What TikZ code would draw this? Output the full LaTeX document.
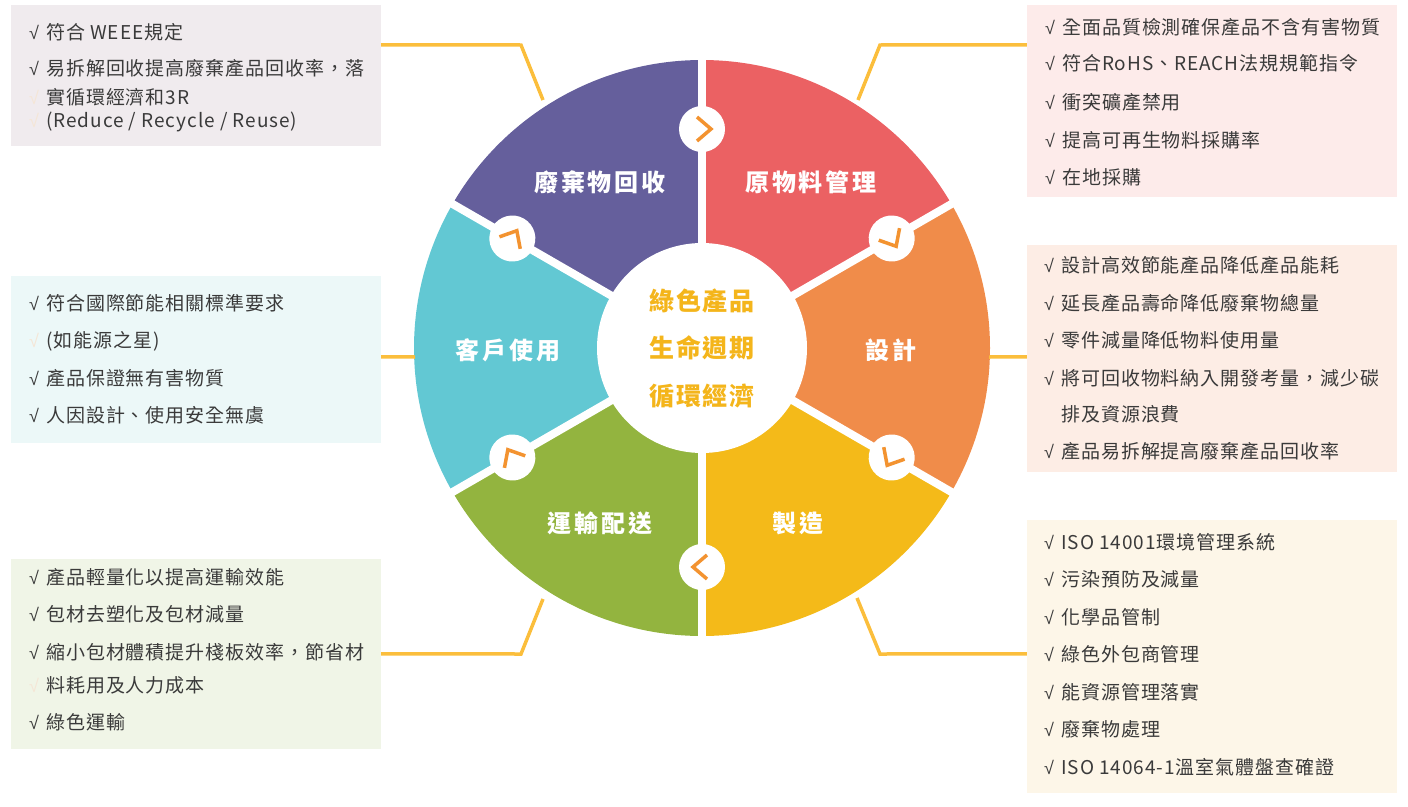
\documentclass[tikz,border=0pt]{standalone}
\usepackage{fontspec}
\usepackage{xcolor}
\usepackage{tikz}
\usetikzlibrary{calc}
\newfontfamily\tc[LetterSpace=5]{Noto Sans CJK TC}
\newfontfamily\ck{Liberation Sans}
\definecolor{cpur}{HTML}{655F9C}
\definecolor{cred}{HTML}{EB6163}
\definecolor{cora}{HTML}{F08C4A}
\definecolor{cyel}{HTML}{F4BA19}
\definecolor{cgrn}{HTML}{93B43F}
\definecolor{ccya}{HTML}{62C8D3}
\definecolor{chevc}{HTML}{F39330}
\definecolor{linkc}{HTML}{FBBE3C}
\definecolor{gold}{HTML}{F4B51B}
\definecolor{txt}{HTML}{3A3A3A}
\definecolor{faint}{HTML}{F5E6D6}
\definecolor{bga}{HTML}{F0EBEE}
\definecolor{bgb}{HTML}{FDEBEA}
\definecolor{bgc}{HTML}{ECF8F8}
\definecolor{bgd}{HTML}{FDEDE5}
\definecolor{bge}{HTML}{F0F5E7}
\definecolor{bgf}{HTML}{FDF6E8}
\newcommand\chk{\makebox[17pt][l]{{\ck\fontsize{18}{20}\selectfont √}}}
\newcommand\fchk{\makebox[17pt][l]{\textcolor{faint}{\ck\fontsize{18}{20}\selectfont √}}}

\begin{document}
\begin{tikzpicture}[x=1pt,y=1pt,
box/.style={minimum width=370pt, inner sep=0pt},
item/.style={anchor=west, inner sep=0pt, text=txt, font=\tc\fontsize{19}{22}\selectfont},
seg/.style={text=white, font=\tc\addfontfeature{LetterSpace=12}\bfseries\fontsize{24}{28}\selectfont},
link/.style={draw=linkc, line width=3.5pt},
chev/.style={draw=chevc, line width=3.5pt}]
\useasboundingbox (0,0) rectangle (1408,-806);
% boxes
\node[box, fill=bga, minimum height=141pt] (recyc) at (196,-75.5) {};
\node[box, fill=bgb, minimum height=192pt] (mat) at (1212,-101) {};
\node[box, fill=bgc, minimum height=167pt] (use) at (196,-359.5) {};
\node[box, fill=bgd, minimum height=227pt] (des) at (1212,-358.5) {};
\node[box, fill=bge, minimum height=190pt] (trans) at (196,-654) {};
\node[box, fill=bgf, minimum height=273pt] (mfg) at (1212,-656.5) {};
% wheel
\begin{scope}[shift={(702,-348)}]
\foreach \a/\c in {30/cred,-30/cora,-90/cyel,-150/cgrn,150/ccya,90/cpur}
  \fill[\c] (0,0) -- (\a:288pt) arc[start angle=\a, delta angle=60, radius=288pt] -- cycle;
\foreach \a in {90,30,-30,-90,-150,150}
  \draw[white, line width=8pt] (0,0) -- (\a:292pt);
\fill[white] (0,0) circle (105pt);
\foreach \a in {90,30,-30,-90,-150,150}{
  \begin{scope}[rotate=\a]
  \fill[white] (219,0) circle (23pt);
  \draw[chev] (231,5) -- (219,-9) -- (207,5);
  \end{scope}}
\end{scope}
\node[seg] (l-recyc) at (600,-182) {廢棄物回收};
\node[seg] (l-mat) at (811,-182) {原物料管理};
\node[seg] (l-des) at (891,-350) {設計};
\node[seg] (l-mfg) at (798,-523) {製造};
\node[seg] (l-trans) at (600,-523) {運輸配送};
\node[seg] (l-use) at (508,-350) {客戶使用};
\node[text=gold, align=center, font=\tc\addfontfeature{LetterSpace=7}\bfseries\fontsize{25}{47.5}\selectfont] (core) at (702,-348) {綠色產品\\生命週期\\循環經濟};
% connectors
\coordinate (k1) at (543,-100);
\coordinate (k2) at (858,-100);
\coordinate (k3) at (415,-357);
\coordinate (k4) at (989,-357);
\coordinate (k5) at (543,-599);
\coordinate (k6) at (857,-598);
\draw[link] ([yshift=-40pt]recyc.north east) -- (521,-45) -- (k1);
\draw[link] ([yshift=-40pt]mat.north west) -- (880,-45) -- (k2);
\draw[link] ([yshift=-81pt]use.north east) -- (k3);
\draw[link] ([yshift=-112pt]des.north west) -- (k4);
\draw[link] ([yshift=-95pt]trans.north east) -- (521,-654) -- (k5);
\draw[link] ([yshift=-134pt]mfg.north west) -- (880,-654) -- (k6);
% texts
\foreach \y/\t [count=\i] in {32/{\chk 符合 WEEE規定}, 68/{\chk 易拆解回收提高廢棄產品回收率，落}, 97/{\fchk 實循環經濟和3R}, 122/{\fchk (Reduce / Recycle / Reuse)}}
  \node[item] (ta\i) at (29,-\y) {\t};
\foreach \y/\t [count=\i] in {27/{\chk 全面品質檢測確保產品不含有害物質}, 63/{\chk 符合RoHS、REACH法規規範指令}, 102/{\chk 衝突礦產禁用}, 140/{\chk 提高可再生物料採購率}, 177/{\chk 在地採購}}
  \node[item] (tb\i) at (1045,-\y) {\t};
\foreach \y/\t [count=\i] in {303/{\chk 符合國際節能相關標準要求}, 341/{\fchk (如能源之星)}, 378/{\chk 產品保證無有害物質}, 415/{\chk 人因設計、使用安全無虞}}
  \node[item] (tc\i) at (29,-\y) {\t};
\foreach \y/\t [count=\i] in {265/{\chk 設計高效節能產品降低產品能耗}, 303/{\chk 延長產品壽命降低廢棄物總量}, 340/{\chk 零件減量降低物料使用量}, 378/{\chk 將可回收物料納入開發考量，減少碳}, 414/{\makebox[17pt]{}排及資源浪費}, 451/{\chk 產品易拆解提高廢棄產品回收率}}
  \node[item] (td\i) at (1044,-\y) {\t};
\foreach \y/\t [count=\i] in {577/{\chk 產品輕量化以提高運輸效能}, 614/{\chk 包材去塑化及包材減量}, 652/{\chk 縮小包材體積提升棧板效率，節省材}, 685/{\fchk 料耗用及人力成本}, 722/{\chk 綠色運輸}}
  \node[item] (te\i) at (29,-\y) {\t};
\foreach \y/\t [count=\i] in {542/{\chk ISO 14001環境管理系統}, 579/{\chk 污染預防及減量}, 617/{\chk 化學品管制}, 654/{\chk 綠色外包商管理}, 692/{\chk 能資源管理落實}, 729/{\chk 廢棄物處理}, 767/{\chk ISO 14064-1溫室氣體盤查確證}}
  \node[item] (tf\i) at (1044,-\y) {\t};
\end{tikzpicture}
\end{document}
